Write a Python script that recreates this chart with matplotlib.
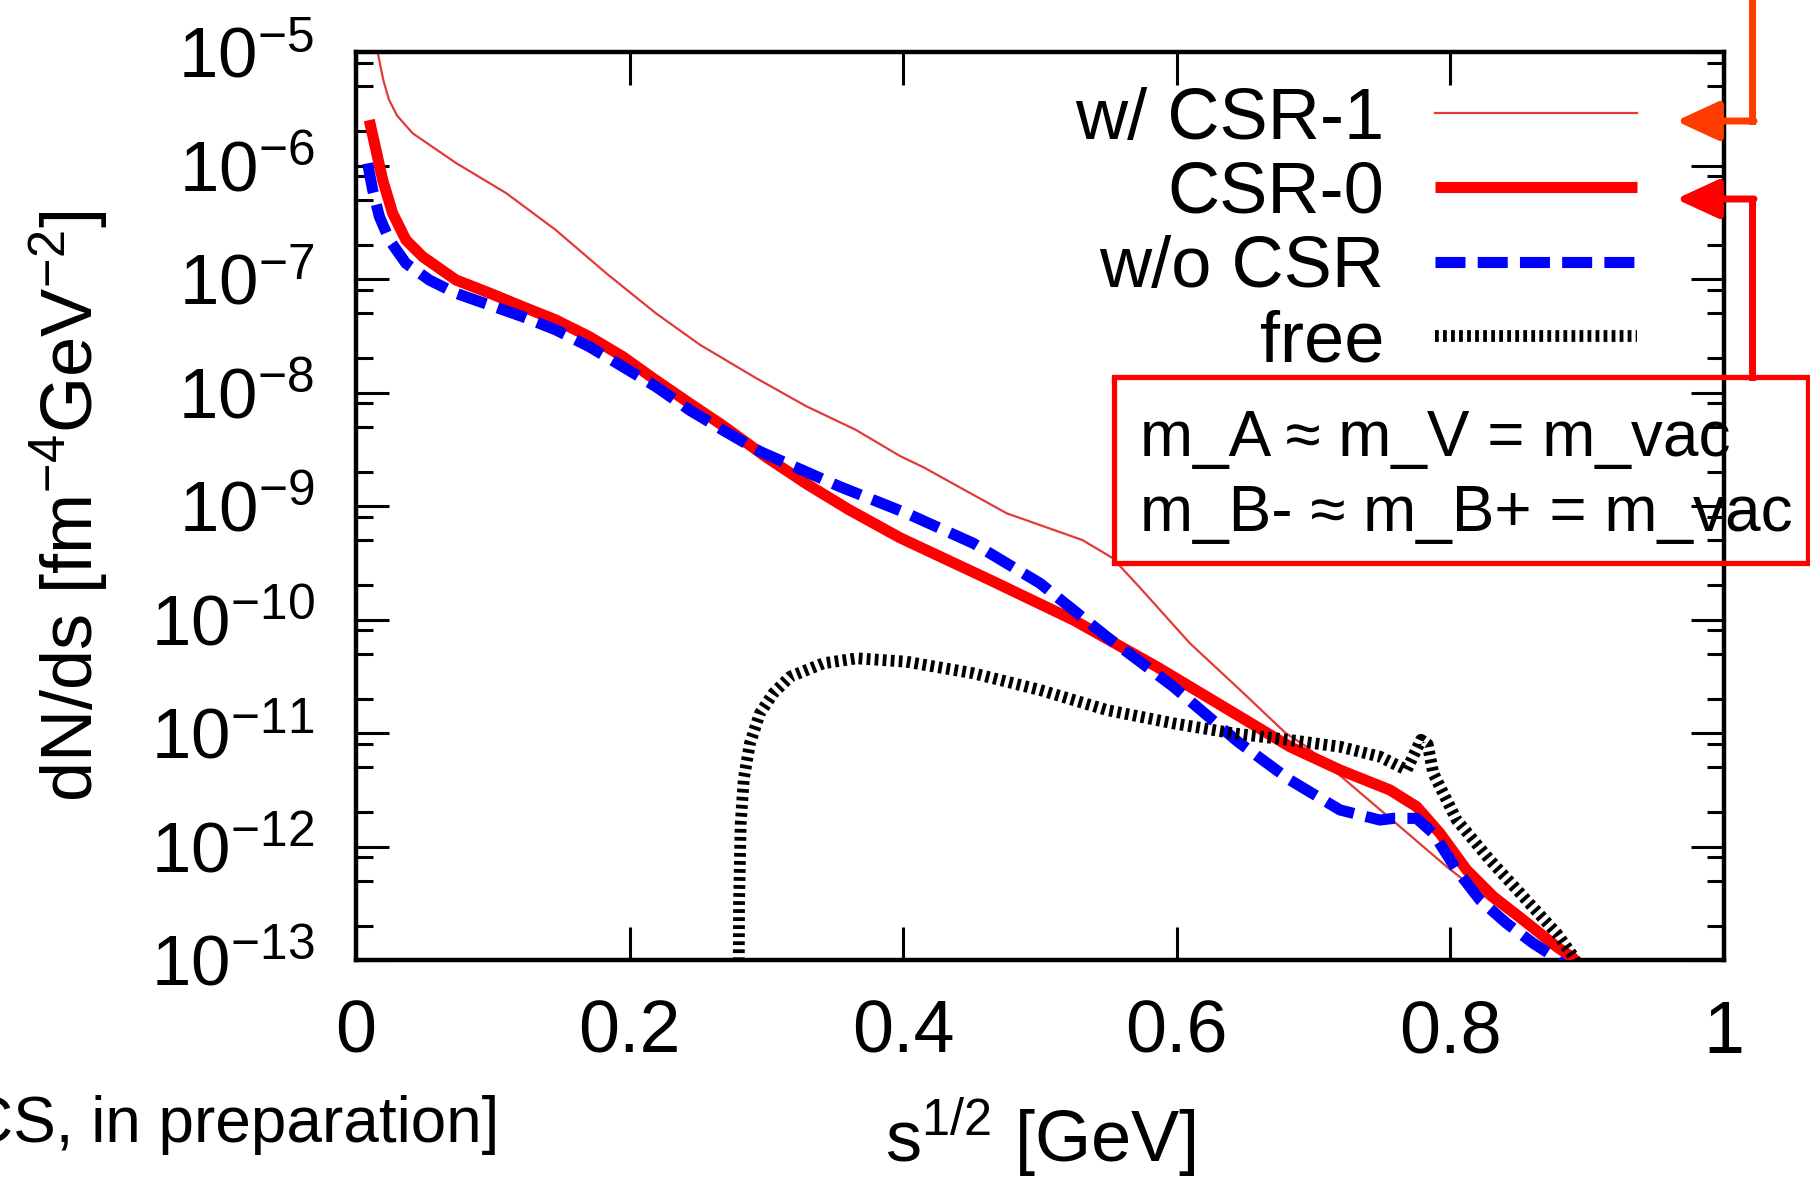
"""Dilepton-type spectrum dN/ds vs sqrt(s): CSR-1 / CSR-0 / w/o CSR / free, log y."""

from __future__ import annotations

import matplotlib

matplotlib.use("Agg")

import matplotlib.pyplot as plt
import matplotlib.ticker as mticker
import numpy as np
from matplotlib.lines import Line2D
from matplotlib.patches import FancyArrowPatch, Rectangle

OUT_PATH = "out.png"
W_PX, H_PX, DPI = 1810, 1181, 100

# --- data, y stored as log10(dN/ds) ---
S_CSR1 = [0.010, 0.0158, 0.020, 0.0241, 0.030, 0.0414, 0.0731, 0.1096, 0.146,
          0.1827, 0.219, 0.2515, 0.292, 0.329, 0.3655, 0.3977, 0.415, 0.4756,
          0.531, 0.553, 0.5731, 0.6096, 0.6462, 0.6795, 0.6948, 0.7315, 0.7632,
          0.7973, 0.8314, 0.8655, 0.8874, 0.895]
LOG_CSR1 = [-4.6, -5.0, -5.25, -5.42, -5.56, -5.716, -5.978, -6.242, -6.568,
            -6.947, -7.30, -7.58, -7.87, -8.12, -8.33, -8.56, -8.66, -9.064,
            -9.30, -9.458, -9.72, -10.21, -10.62, -11.0, -11.121, -11.50,
            -11.826, -12.178, -12.5, -12.795, -12.985, -13.08]

S_CSR0 = [0.0097, 0.0146, 0.0195, 0.0268, 0.0365, 0.0487, 0.0731, 0.0974,
          0.1218, 0.146, 0.1705, 0.195, 0.219, 0.2436, 0.268, 0.30, 0.33,
          0.36, 0.3977, 0.4635, 0.5244, 0.5853, 0.6462, 0.6827, 0.7193,
          0.7558, 0.7753, 0.7924, 0.8119, 0.8314, 0.8533, 0.8777, 0.8899, 0.896]
LOG_CSR0 = [-5.60, -5.863, -6.128, -6.421, -6.656, -6.803, -7.009, -7.123,
            -7.244, -7.361, -7.508, -7.684, -7.89, -8.093, -8.29, -8.57, -8.81,
            -9.03, -9.28, -9.652, -10.004, -10.416, -10.856, -11.121, -11.326,
            -11.502, -11.649, -11.884, -12.207, -12.442, -12.648, -12.883,
            -12.985, -13.08]

S_NOCSR = [0.0085, 0.0122, 0.0171, 0.0244, 0.0365, 0.0536, 0.0731, 0.0975,
           0.1218, 0.1462, 0.1705, 0.195, 0.2193, 0.2437, 0.268, 0.2953,
           0.3538, 0.4025, 0.4513, 0.5, 0.5487, 0.5975, 0.645, 0.6827, 0.7193,
           0.7485, 0.7583, 0.7753, 0.7875, 0.8046, 0.8216, 0.8411, 0.8606,
           0.8777, 0.885]
LOG_NOCSR = [-5.981, -6.216, -6.451, -6.656, -6.862, -7.009, -7.126, -7.229,
             -7.332, -7.449, -7.596, -7.772, -7.949, -8.154, -8.33, -8.52,
             -8.83, -9.064, -9.329, -9.681, -10.151, -10.592, -11.08, -11.414,
             -11.678, -11.767, -11.752, -11.752, -11.884, -12.207, -12.471,
             -12.677, -12.853, -12.985, -13.1]

S_FREE = [0.2795, 0.2800, 0.2812, 0.2835, 0.288, 0.2953, 0.3051, 0.3173,
          0.3416, 0.366, 0.4025, 0.4513, 0.5, 0.5487, 0.5975, 0.6413, 0.6827,
          0.7193, 0.7485, 0.768, 0.773, 0.7785, 0.7834, 0.7875, 0.8046,
          0.8289, 0.8533, 0.8777, 0.8899, 0.895]
LOG_FREE = [-14.0, -12.5, -11.8, -11.4, -11.09, -10.826, -10.65, -10.504,
            -10.386, -10.342, -10.372, -10.474, -10.621, -10.797, -10.915,
            -11.003, -11.062, -11.121, -11.209, -11.326, -11.2, -11.06, -11.10,
            -11.355, -11.767, -12.119, -12.442, -12.765, -12.97, -13.1]

LEGEND_LABELS = ["w/ CSR-1", "CSR-0", "w/o CSR", "free"]
X_TICKS = [0.0, 0.2, 0.4, 0.6, 0.8, 1.0]
X_TICK_LABELS = ["0", "0.2", "0.4", "0.6", "0.8", "1"]
Y_EXPONENTS = list(range(-13, -4))
Y_MINOR_SUBS = (2.0, 5.0, 8.0)

BOX_LINES = ["m_A \u2248 m_V = m_vac", "m_B- \u2248 m_B+ = m_vac"]
NOTE = "CS, in preparation]"


def fx(px: float) -> float:
    return px / W_PX


def fy(py: float) -> float:
    return 1.0 - py / H_PX


def main() -> None:
    plt.rcParams.update(
        {
            "font.family": ["Liberation Sans", "DejaVu Sans"],
            "mathtext.fontset": "custom",
            "mathtext.rm": "Liberation Sans",
            "mathtext.it": "Liberation Sans:italic",
            "mathtext.bf": "Liberation Sans:bold",
        }
    )

    fig = plt.figure(figsize=(W_PX / DPI, H_PX / DPI), dpi=DPI)
    fig.patch.set_facecolor("white")
    ax = fig.add_axes([fx(356), fy(960), fx(1724) - fx(356), fy(52) - fy(960)])
    ax.patch.set_alpha(0.0)

    l_csr1, = ax.plot(S_CSR1, 10.0 ** np.array(LOG_CSR1), color="#e23a3a", lw=1.6, zorder=2)
    l_csr0, = ax.plot(S_CSR0, 10.0 ** np.array(LOG_CSR0), color="#ff0000", lw=8,
                      solid_capstyle="butt", solid_joinstyle="round", zorder=3)
    l_nocsr, = ax.plot(S_NOCSR, 10.0 ** np.array(LOG_NOCSR), color="#0000ff", lw=8,
                       ls=(0, (2.7, 1.1)), dash_capstyle="butt", zorder=4)
    l_free, = ax.plot(S_FREE, 10.0 ** np.array(LOG_FREE), color="black", lw=8.5,
                      ls=(0, (0.32, 0.36)), dash_capstyle="butt", zorder=5)

    ax.set_yscale("log")
    ax.set_xlim(0.0, 1.0)
    ax.set_ylim(1e-13, 1e-5)

    ax.set_xticks(X_TICKS, X_TICK_LABELS)
    ax.set_yticks([10.0 ** e for e in Y_EXPONENTS])
    ax.yaxis.set_major_formatter(
        mticker.FuncFormatter(lambda v, _: r"$\mathregular{10^{%d}}$" % int(round(np.log10(v))))
    )
    ax.yaxis.set_minor_locator(mticker.LogLocator(base=10.0, subs=Y_MINOR_SUBS, numticks=30))
    ax.yaxis.set_minor_formatter(mticker.NullFormatter())
    ax.xaxis.set_minor_locator(mticker.NullLocator())

    ax.tick_params(which="both", direction="in", top=True, right=True, width=2.2, color="black")
    ax.tick_params(which="major", length=24)
    ax.tick_params(which="minor", length=12)
    ax.tick_params(axis="x", labelsize=53, pad=28)
    ax.tick_params(axis="y", labelsize=51, pad=30)
    for s in ax.spines.values():
        s.set_linewidth(3.2)

    ax.legend(
        [l_csr1, l_csr0, l_nocsr, l_free],
        LEGEND_LABELS,
        loc="upper right",
        bbox_to_anchor=(0.9364, 0.962),
        frameon=False,
        markerfirst=False,
        fontsize=52,
        handlelength=2.8,
        handletextpad=0.7,
        labelspacing=0.1,
        borderpad=0.0,
        borderaxespad=0.0,
    )

    fig.text(fx(69), fy(506), r"dN/ds [fm$\mathregular{^{-4}}$GeV$\mathregular{^{-2}}$]",
             rotation=90, ha="center", va="center", fontsize=52)
    fig.text(fx(1040), fy(1138), r"s$\mathregular{^{1/2}}$ [GeV]",
             ha="center", va="center", fontsize=52)
    fig.text(fx(499), fy(1125), NOTE, ha="right", va="center", fontsize=46)

    # annotation box (text sits under the axes frame, border on top)
    fig.add_artist(Rectangle((fx(1114), fy(563)), fx(1808) - fx(1114), fy(377) - fy(563),
                             transform=fig.transFigure, fill=False, edgecolor="#ff0000",
                             lw=3.8, zorder=6))
    fig.text(fx(1140), fy(456), BOX_LINES[0], ha="left", va="baseline", fontsize=46, zorder=-1)
    fig.text(fx(1140), fy(531), BOX_LINES[1], ha="left", va="baseline", fontsize=46, zorder=-1)

    # pointer arrows on the right edge
    for color, y0, y1 in (("#ff3c00", -5, 121), ("#ff0000", 377, 199)):
        fig.add_artist(Line2D([fx(1752), fx(1752)], [fy(y0), fy(y1)], color=color, lw=5,
                              transform=fig.transFigure, solid_capstyle="projecting", zorder=6))
        fig.add_artist(FancyArrowPatch((fx(1754), fy(y1)), (fx(1676), fy(y1)),
                                       transform=fig.transFigure,
                                       arrowstyle="-|>,head_length=26,head_width=12",
                                       mutation_scale=1, color=color, lw=5,
                                       shrinkA=0, shrinkB=0, zorder=6))

    fig.savefig(OUT_PATH, dpi=DPI)
    plt.close(fig)


if __name__ == "__main__":
    main()
